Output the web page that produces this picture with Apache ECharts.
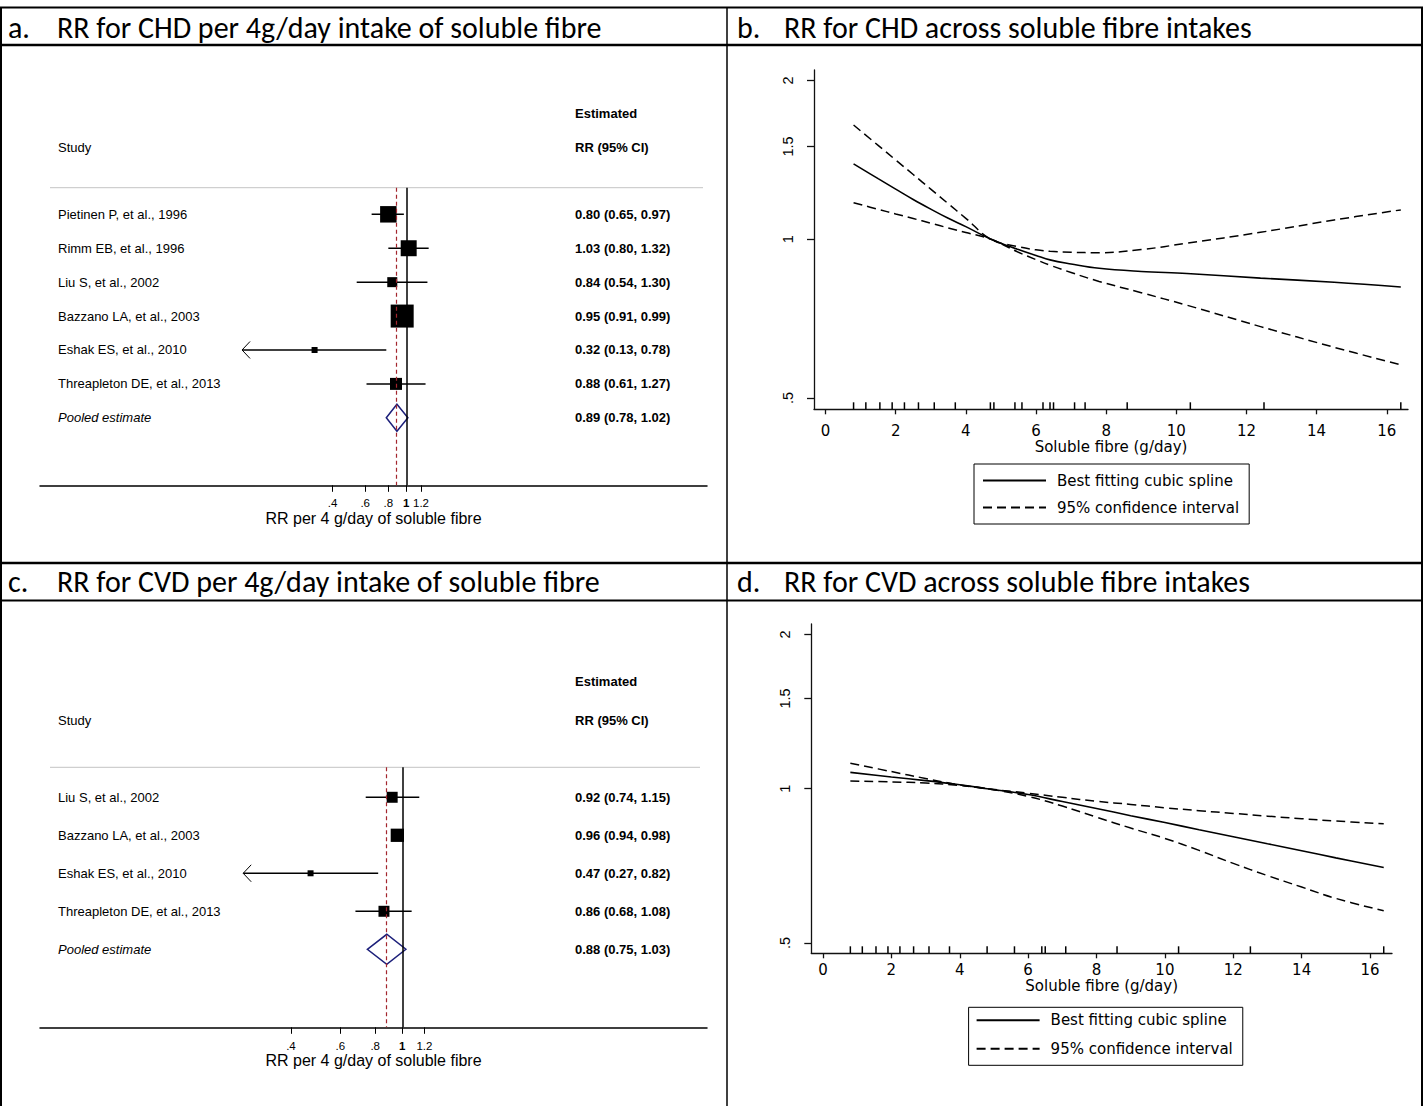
<!DOCTYPE html>
<html><head><meta charset="utf-8">
<script src="https://cdn.jsdelivr.net/npm/echarts@6/dist/echarts.min.js"></script>
<style>html,body{margin:0;padding:0;background:#fff}#c{width:1423px;height:1106px}</style>
</head><body><div id="c"></div><script>
// ---------- Panel a: RR for CHD per 4 g/day ----------
const studiesA = ['Pietinen P, et al., 1996','Rimm EB, et al., 1996','Liu S, et al., 2002','Bazzano LA, et al., 2003','Eshak ES, et al., 2010','Threapleton DE, et al., 2013'];
const rrA = [0.80, 1.03, 0.84, 0.95, 0.32, 0.88];
const loA = [0.65, 0.80, 0.54, 0.91, 0.13, 0.61];
const hiA = [0.97, 1.32, 1.30, 0.99, 0.78, 1.27];
const weightA = [20.3, 19.1, 7.5, 39.6, 2.7, 10.8];
const pooledA = [0.89, 0.78, 1.02];
// ---------- Panel c: RR for CVD per 4 g/day ----------
const studiesC = ['Liu S, et al., 2002','Bazzano LA, et al., 2003','Eshak ES, et al., 2010','Threapleton DE, et al., 2013'];
const rrC = [0.92, 0.96, 0.47, 0.86];
const loC = [0.74, 0.94, 0.27, 0.68];
const hiC = [1.15, 0.98, 0.82, 1.08];
const weightC = [26.6, 38.9, 7.9, 26.6];
const pooledC = [0.88, 0.75, 1.03];
const forestTicks = [0.4, 0.6, 0.8, 1, 1.2];
const forestTickLabels = ['.4', '.6', '.8', '1', '1.2'];
// ---------- Panel b: CHD dose-response ----------
const xB = [0.8, 1.5, 2, 2.5, 3, 3.5, 4, 4.72, 5.5, 6, 6.4, 7, 7.8, 9, 10.3, 12.4, 14.5, 16.4];
const splineB = [1.39, 1.303, 1.245, 1.19, 1.141, 1.096, 1.057, 1.0, 0.956, 0.932, 0.914, 0.898, 0.881, 0.869, 0.861, 0.844, 0.829, 0.812];
const upperB = [1.647, 1.507, 1.414, 1.327, 1.245, 1.168, 1.096, 1.0, 0.968, 0.955, 0.949, 0.945, 0.943, 0.956, 0.983, 1.031, 1.088, 1.137];
const lowerB = [1.173, 1.14, 1.117, 1.095, 1.073, 1.051, 1.03, 1.0, 0.945, 0.915, 0.893, 0.865, 0.832, 0.792, 0.75, 0.683, 0.624, 0.578];
const rugB = [0.8, 1.15, 1.55, 1.9, 2.25, 2.65, 3.1, 3.7, 4.7, 4.8, 5.4, 5.6, 6.2, 6.4, 6.5, 7.1, 7.4, 8.6, 10.4, 12.5, 16.4];
// ---------- Panel d: CVD dose-response ----------
const xD = [0.8, 2, 3, 4, 4.8, 6, 7, 8, 9, 10, 11, 12, 13, 14, 15, 16.4];
const splineD = [1.076, 1.054, 1.037, 1.018, 1.0, 0.974, 0.944, 0.915, 0.886, 0.859, 0.832, 0.806, 0.781, 0.757, 0.733, 0.702];
const upperD = [1.121, 1.080, 1.047, 1.017, 1.0, 0.98, 0.962, 0.945, 0.932, 0.918, 0.906, 0.895, 0.884, 0.874, 0.865, 0.854];
const lowerD = [1.035, 1.031, 1.026, 1.015, 1.0, 0.966, 0.925, 0.88, 0.838, 0.8, 0.758, 0.715, 0.677, 0.643, 0.611, 0.578];
const rugD = [0.8, 1.15, 1.55, 1.9, 2.25, 2.65, 3.1, 3.7, 4.8, 5.6, 6.4, 6.5, 7.1, 8.6, 10.4, 12.5, 16.4];
const splineXTicks = [0, 2, 4, 6, 8, 10, 12, 14, 16];
const splineYTicks = [0.5, 1, 1.5, 2];
const splineYTickLabels = ['.5', '1', '1.5', '2'];
const splineNames = ['Best fitting cubic spline', '95% confidence interval'];
const headers = [
  ['a.', 'RR for CHD per 4g/day intake of soluble fibre'],
  ['b.', 'RR for CHD across soluble fibre intakes'],
  ['c.', 'RR for CVD per 4g/day intake of soluble fibre'],
  ['d.', 'RR for CVD across soluble fibre intakes']
];

const ARIAL = "'Liberation Sans', Arial, sans-serif";
const DEJAVU = "'DejaVu Sans', sans-serif";
const HEAD = "Carlito, Lato, 'Open Sans', sans-serif";

function forestData(rr, lo, hi, w, pooled) {
  const d = rr.map((r, i) => [i, Math.log(r), Math.log(lo[i]), Math.log(hi[i]), w[i], 0, lo[i] < forestTicks[0] ? 1 : 0]);
  d.push([rr.length, Math.log(pooled[0]), Math.log(pooled[1]), Math.log(pooled[2]), 0, 1, 0]);
  return d;
}
function forestRender(boxScale, diamondH) {
  return function (params, api) {
    const row = api.value(0);
    const c = api.coord([api.value(1), row]);
    const l = api.coord([api.value(2), row]);
    const h = api.coord([api.value(3), row]);
    const y = c[1];
    const ch = [];
    if (api.value(5)) {
      ch.push({type: 'polygon', shape: {points: [[l[0], y], [c[0], y - diamondH], [h[0], y], [c[0], y + diamondH]]},
        style: {fill: 'none', stroke: '#1c1f7a', lineWidth: 1.5}});
    } else {
      ch.push({type: 'line', shape: {x1: l[0], y1: y, x2: h[0], y2: y}, style: {stroke: '#000', lineWidth: 1.5}});
      const s = boxScale * Math.sqrt(api.value(4));
      ch.push({type: 'rect', shape: {x: c[0] - s / 2, y: y - s / 2, width: s, height: s}, style: {fill: '#000'}});
      if (api.value(6)) {
        ch.push({type: 'polyline', shape: {points: [[l[0] + 8, y - 8.5], [l[0], y], [l[0] + 8, y + 8.5]]},
          style: {stroke: '#000', fill: 'none', lineWidth: 1}});
      }
    }
    return {type: 'group', children: ch};
  };
}
function rugRender(params, api) {
  const x = api.coord([api.value(0), 0])[0];
  const cs = params.coordSys;
  const b = cs.y + cs.height;
  return {type: 'line', shape: {x1: x, y1: b, x2: x, y2: b - 7}, style: {stroke: '#000', lineWidth: 1.5}};
}
const ciText = (r, l, h) => r.toFixed(2) + ' (' + l.toFixed(2) + ', ' + h.toFixed(2) + ')';
const rowsOf = (arr) => arr.map((_, i) => i).concat([arr.length]);
const fmtForestTick = (v) => {
  const i = forestTicks.findIndex(t => Math.abs(Math.log(t) - v) < 1e-6);
  const s = i >= 0 ? forestTickLabels[i] : '';
  return s === '1' ? '{b|1}' : s;
};
const fmtSplineY = (v) => {
  const i = splineYTicks.findIndex(t => Math.abs(Math.log(t) - v) < 1e-6);
  return i >= 0 ? splineYTickLabels[i] : '';
};

function forestXAxis(grid, min, max, nameGap, labelMargin) {
  return {
    type: 'value', gridIndex: grid, min: min, max: max,
    axisLine: {show: true, onZero: false, lineStyle: {color: '#000', width: 1.5}},
    axisTick: {show: true, length: 6.5, lineStyle: {color: '#000', width: 1}, customValues: forestTicks.map(Math.log)},
    axisLabel: {customValues: forestTicks.map(Math.log), formatter: fmtForestTick, fontFamily: ARIAL, fontSize: 11.5, color: '#000', margin: labelMargin,
      rich: {b: {fontFamily: ARIAL, fontSize: 11.5, fontWeight: 'bold', color: '#000'}}},
    splitLine: {show: false},
    name: 'RR per 4 g/day of soluble fibre', nameLocation: 'middle', nameGap: nameGap,
    nameTextStyle: {fontFamily: ARIAL, fontSize: 16, color: '#000'}
  };
}
function forestNameAxis(grid, min, max, names) {
  return {
    type: 'value', gridIndex: grid, inverse: true, min: min, max: max,
    axisLine: {show: false, onZero: false}, axisTick: {show: false}, splitLine: {show: false},
    axisLabel: {customValues: rowsOf(names), align: 'left', margin: -18, fontFamily: ARIAL, fontSize: 13, color: '#000',
      formatter: (v) => v < names.length ? names[v] : '{i|Pooled estimate}',
      rich: {i: {fontFamily: ARIAL, fontSize: 13, fontStyle: 'italic', color: '#000'}}}
  };
}
function forestValAxis(grid, min, max, rr, lo, hi, pooled) {
  return {
    type: 'value', gridIndex: grid, position: 'right', inverse: true, min: min, max: max,
    axisLine: {show: false, onZero: false}, axisTick: {show: false}, splitLine: {show: false},
    axisLabel: {customValues: rowsOf(rr), align: 'left', margin: -132, fontFamily: ARIAL, fontSize: 13, fontWeight: 'bold', color: '#000',
      formatter: (v) => v < rr.length ? ciText(rr[v], lo[v], hi[v]) : ciText(pooled[0], pooled[1], pooled[2])}
  };
}
function splineXAxis(grid, min, max, labelMargin, nameGap) {
  return {
    type: 'value', gridIndex: grid, min: min, max: max,
    axisLine: {show: true, onZero: false, lineStyle: {color: '#111', width: 1.3}},
    axisTick: {show: true, length: 5, lineStyle: {color: '#111', width: 1.3}, customValues: splineXTicks},
    axisLabel: {customValues: splineXTicks, fontFamily: DEJAVU, fontSize: 15, color: '#000', margin: labelMargin},
    splitLine: {show: false},
    name: 'Soluble fibre (g/day)', nameLocation: 'middle', nameGap: nameGap,
    nameTextStyle: {fontFamily: DEJAVU, fontSize: 15, color: '#000'}
  };
}
function splineYAxis(grid, min, max) {
  return {
    type: 'value', gridIndex: grid, min: min, max: max,
    axisLine: {show: true, onZero: false, lineStyle: {color: '#111', width: 1.3}},
    axisTick: {show: true, length: 7, lineStyle: {color: '#111', width: 1.3}, customValues: splineYTicks.map(Math.log)},
    axisLabel: {customValues: splineYTicks.map(Math.log), formatter: fmtSplineY, rotate: 90, fontFamily: ARIAL, fontSize: 14.5, color: '#000', margin: 19},
    splitLine: {show: false}
  };
}
function splineSeries(xi, yi, xs, solid, up, lo) {
  const pts = (arr) => xs.map((x, i) => [x, Math.log(arr[i])]);
  const base = {type: 'line', xAxisIndex: xi, yAxisIndex: yi, symbol: 'none', showSymbol: false, smooth: 0.4, silent: true, z: 3};
  return [
    Object.assign({}, base, {name: splineNames[0], data: pts(solid), lineStyle: {color: '#000', width: 1.6, type: 'solid'}, itemStyle: {color: '#000'}}),
    Object.assign({}, base, {name: splineNames[1], data: pts(up), lineStyle: {color: '#000', width: 1.5, type: [9, 5]}, itemStyle: {color: '#000'}}),
    Object.assign({}, base, {name: splineNames[1], data: pts(lo), lineStyle: {color: '#000', width: 1.5, type: [9, 5]}, itemStyle: {color: '#000'}})
  ];
}
function refLines(xi, yi, pooled) {
  return {
    type: 'line', xAxisIndex: xi, yAxisIndex: yi, data: [], silent: true,
    markLine: {silent: true, symbol: ['none', 'none'], label: {show: false}, animation: false,
      data: [
        {xAxis: Math.log(pooled[0]), lineStyle: {color: '#a3262e', width: 1.2, type: [4, 3]}},
        {xAxis: 0, lineStyle: {color: '#000', width: 1.5, type: 'solid'}}
      ]}
  };
}
function legendAt(left, top, padding, gap) {
  return {
    left: left, top: top, orient: 'vertical', padding: padding, itemWidth: 63, itemHeight: 14, itemGap: gap,
    borderColor: '#000', borderWidth: 1, selectedMode: false, data: splineNames,
    itemStyle: {opacity: 0, borderWidth: 0},
    textStyle: {fontFamily: DEJAVU, fontSize: 15, color: '#000', padding: [0, 0, 0, 6]}
  };
}

// table frame + headers
const g = [];
const L = (x1, y1, x2, y2, w) => g.push({type: 'line', shape: {x1, y1, x2, y2}, style: {stroke: '#000', lineWidth: w}, silent: true});
L(0, 7.5, 1423, 7.5, 2);
L(1, 7, 1, 1106, 2);
L(1422, 7, 1422, 1106, 2);
L(727, 7, 727, 1106, 1.5);
L(0, 45, 1423, 45, 2.5);
L(0, 563, 1423, 563, 2.5);
L(0, 600.5, 1423, 600.5, 2);
const T = (x, y, text, font, extra) => g.push({type: 'text', x: x, y: y, silent: true,
  style: Object.assign({text: text, font: font, fill: '#000', textVerticalAlign: 'middle'}, extra || {})});
const headPos = [[8, 57, 27], [737, 784, 27], [8, 57, 581], [737, 784, 581]];
headers.forEach((h, i) => {
  T(headPos[i][0], headPos[i][2], h[0], '30px ' + HEAD);
  T(headPos[i][1], headPos[i][2], h[1], '30px ' + HEAD);
});
// forest headers and separator lines
T(575, 113, 'Estimated', 'bold 13px ' + ARIAL);
T(58, 147, 'Study', '13px ' + ARIAL);
T(575, 147, 'RR (95% CI)', 'bold 13px ' + ARIAL);
T(575, 681, 'Estimated', 'bold 13px ' + ARIAL);
T(58, 720, 'Study', '13px ' + ARIAL);
T(575, 720, 'RR (95% CI)', 'bold 13px ' + ARIAL);
g.push({type: 'line', shape: {x1: 50, y1: 187.7, x2: 703, y2: 187.7}, style: {stroke: '#c4c4c4', lineWidth: 1}, silent: true});
g.push({type: 'line', shape: {x1: 50, y1: 767.3, x2: 700, y2: 767.3}, style: {stroke: '#c4c4c4', lineWidth: 1}, silent: true});

const option = {
  animation: false,
  backgroundColor: '#fff',
  graphic: g,
  grid: [
    {left: 40, top: 187.7, width: 667, height: 297.6},
    {left: 814, top: 70, width: 594, height: 339.3},
    {left: 40, top: 767.3, width: 667, height: 260},
    {left: 811.3, top: 624, width: 580.7, height: 329.3}
  ],
  xAxis: [
    forestXAxis(0, -4.550, 3.735, 24.5, 12),
    splineXAxis(1, -0.328, 16.605, 14, 28),
    forestXAxis(2, -2.982, 2.508, 24, 12.5),
    splineXAxis(3, -0.342, 16.642, 9.5, 23)
  ],
  yAxis: [
    forestNameAxis(0, -0.785, 7.99, studiesA),
    forestValAxis(0, -0.785, 7.99, rrA, loA, hiA, pooledA),
    splineYAxis(1, -0.7424, 0.7393),
    forestNameAxis(2, -0.789, 6.053, studiesC),
    forestValAxis(2, -0.789, 6.053, rrC, loC, hiC, pooledC),
    splineYAxis(3, -0.7391, 0.7396)
  ],
  legend: [
    legendAt(974, 464, [9, 10, 9, 8], 12),
    legendAt(968.6, 1007.3, [5.5, 10, 9, 7], 13.5)
  ],
  series: [
    {type: 'custom', name: 'forestA', xAxisIndex: 0, yAxisIndex: 0, clip: false, silent: true, z: 4,
      encode: {x: [1, 2, 3], y: 0}, renderItem: forestRender(3.655, 13.5), data: forestData(rrA, loA, hiA, weightA, pooledA)},
    refLines(0, 0, pooledA),
    {type: 'custom', name: 'forestC', xAxisIndex: 2, yAxisIndex: 3, clip: false, silent: true, z: 4,
      encode: {x: [1, 2, 3], y: 0}, renderItem: forestRender(2.13, 15), data: forestData(rrC, loC, hiC, weightC, pooledC)},
    refLines(2, 3, pooledC),
    ...splineSeries(1, 2, xB, splineB, upperB, lowerB),
    {type: 'custom', name: 'rugB', xAxisIndex: 1, yAxisIndex: 2, clip: false, silent: true,
      dimensions: ['x'], encode: {x: 0}, renderItem: rugRender, data: rugB.map(v => [v])},
    ...splineSeries(3, 5, xD, splineD, upperD, lowerD),
    {type: 'custom', name: 'rugD', xAxisIndex: 3, yAxisIndex: 5, clip: false, silent: true,
      dimensions: ['x'], encode: {x: 0}, renderItem: rugRender, data: rugD.map(v => [v])}
  ]
};
const chart = echarts.init(document.getElementById('c'), null, {renderer: 'svg', width: 1423, height: 1106});
chart.setOption(option);
</script></body></html>
